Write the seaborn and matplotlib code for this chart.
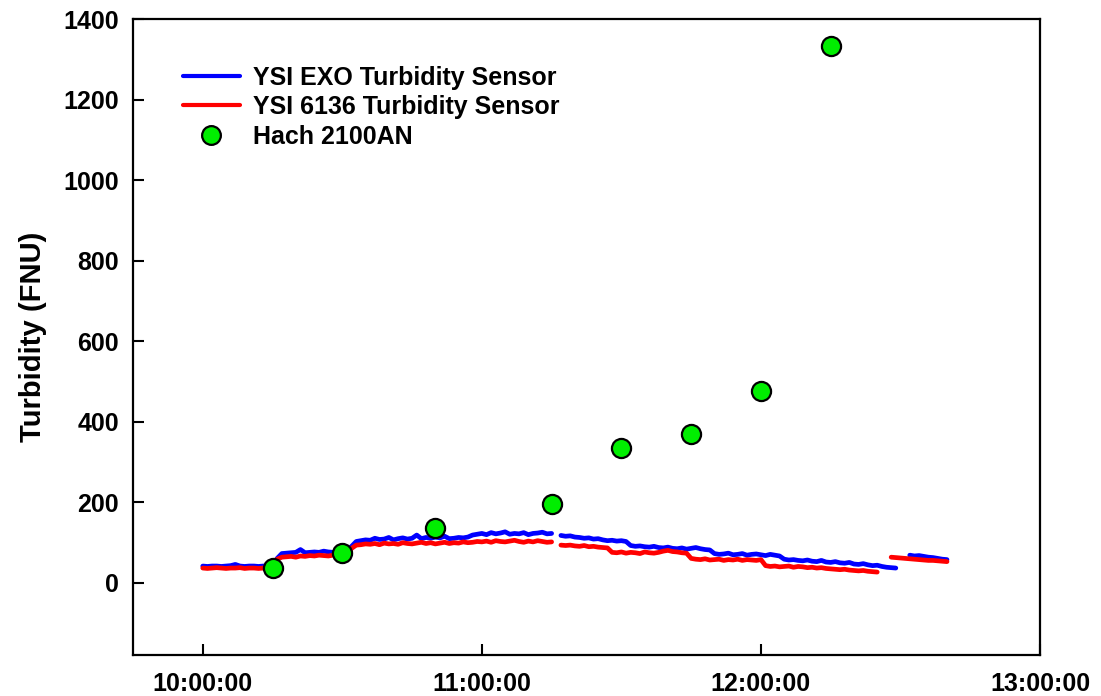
import numpy as np
import pandas as pd
import matplotlib
matplotlib.use("Agg")
import matplotlib.pyplot as plt
from matplotlib.lines import Line2D
import seaborn as sns

nan = np.nan

# Sensor readings, one value per minute from 10:00 (NaN = logger gap)
exo_fnu = [
    41, 40, 41, 41, 40, 41, 42, 45, 41, 40, 41, 41, 40, 41, 41,
    42, 60, 72,
    73, 74, 75, 82, 74, 75, 76, 75, 78, 76, 75, 76, 77, 79,
    90, 102,
    104, 106, 105, 110, 107, 108, 112, 106, 109, 111, 108, 110, 118, 109, 112, 110, 113, 111, 115, 109, 110, 112, 111, 113,
    118, 120, 122, 119, 124, 121, 123, 126, 120, 122, 121, 124, 119, 122, 123, 125, 121, 122,
    nan,
    117, 115, 116, 113, 112, 110, 111, 108, 109, 106, 104,
    105, 103, 104, 102,
    92, 90, 91, 89, 88, 90, 87, 86, 88, 85, 84, 86, 83, 85, 87, 84, 82, 81,
    72, 70, 71, 73, 69, 70, 72, 68, 70, 71, 69, 67, 70, 68, 66,
    58, 56, 57, 55, 54, 56, 53, 52, 55, 51, 50, 52, 49, 48, 50, 46, 45, 47, 44, 42, 43, 40, 38, 37, 36,
    nan, nan,
    68, 66, 67, 65, 63, 62, 60, 58, 57,
]

ysi6136_fnu = [
    36, 35, 36, 37, 36, 35, 36, 36, 37, 35, 36, 36, 35, 36, 37,
    45, 58, 63,
    64, 65, 63, 66, 65, 67, 66, 68, 67, 66, 68, 69, 70, 69,
    85, 93,
    94, 96, 95, 97, 94, 98, 96, 97, 95, 99, 97, 96, 98, 100, 97, 99, 96, 98, 100, 97, 99, 98, 101, 99,
    100, 102, 101, 103, 100, 104, 102, 101, 103, 105, 102, 100, 103, 101, 104, 102, 100, 101,
    nan,
    93, 92, 93, 91, 90, 92, 89, 90, 88, 87, 86,
    75, 74, 76, 73, 75, 74, 72, 76, 74, 73, 75, 78, 80, 77, 76, 74, 73,
    60, 58, 57, 59, 56, 57, 58, 55, 57, 56, 58, 55, 57, 56, 55, 57,
    42, 40, 41, 39, 40, 41, 38, 40, 39, 37, 38, 36, 37, 35, 34, 33, 32, 33, 31, 30, 29, 30, 28, 27, 26,
    nan, nan,
    63, 62, 61, 60, 59, 58, 57, 56, 55, 55, 54, 53, 52,
]

# Hach 2100AN grab samples (clock time in hours, FNU)
hach_hours = [10.25, 10.5, 10.8333, 11.25, 11.5, 11.75, 12.0, 12.25]
hach_fnu = [35, 73, 135, 195, 335, 368, 476, 1333]

series_names = ["YSI EXO Turbidity Sensor", "YSI 6136 Turbidity Sensor"]
series_colors = ["#0000ff", "#ff0000"]
x_ticks = [10, 11, 12, 13]
x_ticklabels = ["10:00:00", "11:00:00", "12:00:00", "13:00:00"]
y_ticks = [0, 200, 400, 600, 800, 1000, 1200, 1400]

sns.set_theme(style="white")
plt.rcParams["font.family"] = ["Liberation Sans", "DejaVu Sans"]
plt.rcParams["font.weight"] = "bold"
plt.rcParams["text.color"] = "black"
plt.rcParams["axes.labelcolor"] = "black"
plt.rcParams["xtick.color"] = "black"
plt.rcParams["ytick.color"] = "black"


def to_frame(values, name):
    v = np.asarray(values, dtype=float)
    minutes = np.arange(len(v))
    seg = np.cumsum(np.isnan(v))
    df = pd.DataFrame({"hour": 10 + minutes / 60.0, "fnu": v, "seg": seg, "series": name})
    return df.dropna()


sensors = pd.concat([to_frame(exo_fnu, series_names[0]),
                     to_frame(ysi6136_fnu, series_names[1])], ignore_index=True)
grab = pd.DataFrame({"hour": hach_hours, "fnu": hach_fnu})

fig = plt.figure(figsize=(11.01, 6.96), dpi=100)
ax = fig.add_axes([0.1208, 0.0589, 0.8238, 0.9138])

for name, color in zip(series_names, series_colors):
    sns.lineplot(data=sensors[sensors["series"] == name], x="hour", y="fnu",
                 units="seg", estimator=None, color=color, lw=3.4,
                 legend=False, ax=ax)

sns.scatterplot(data=grab, x="hour", y="fnu", s=190, color="#00ee00",
                edgecolor="black", linewidth=1.6, zorder=5, legend=False, ax=ax)

ax.set_xlim(9.75, 13.0)
ax.set_ylim(-180, 1400)
ax.set_xticks(x_ticks)
ax.set_xticklabels(x_ticklabels)
ax.set_yticks(y_ticks)
ax.set_xlabel("")
ax.set_ylabel("Turbidity (FNU)", fontsize=21, fontweight="bold", labelpad=12)

ax.tick_params(axis="both", direction="in", length=8, width=1.5, color="black",
               labelcolor="black", labelsize=18, pad=10, bottom=True, left=True)
ax.tick_params(axis="x", pad=12)
for lab in ax.get_xticklabels() + ax.get_yticklabels():
    lab.set_fontweight("bold")

for sp in ax.spines.values():
    sp.set_visible(True)
    sp.set_color("black")
    sp.set_linewidth(1.6)

handles = [
    Line2D([], [], color=series_colors[0], lw=3.0),
    Line2D([], [], color=series_colors[1], lw=3.0),
    Line2D([], [], ls="none", marker="o", ms=13.5, markerfacecolor="#00ee00",
           markeredgecolor="black", markeredgewidth=1.6),
]
ax.legend(handles, ["YSI EXO Turbidity Sensor", "YSI 6136 Turbidity Sensor", "Hach 2100AN"],
          loc="upper left", bbox_to_anchor=(0.030, 0.962), frameon=False,
          prop={"size": 18, "weight": "bold"}, handlelength=2.3,
          handletextpad=0.5, labelspacing=0.22, borderpad=0.4)

fig.savefig("out.png", dpi=100)
